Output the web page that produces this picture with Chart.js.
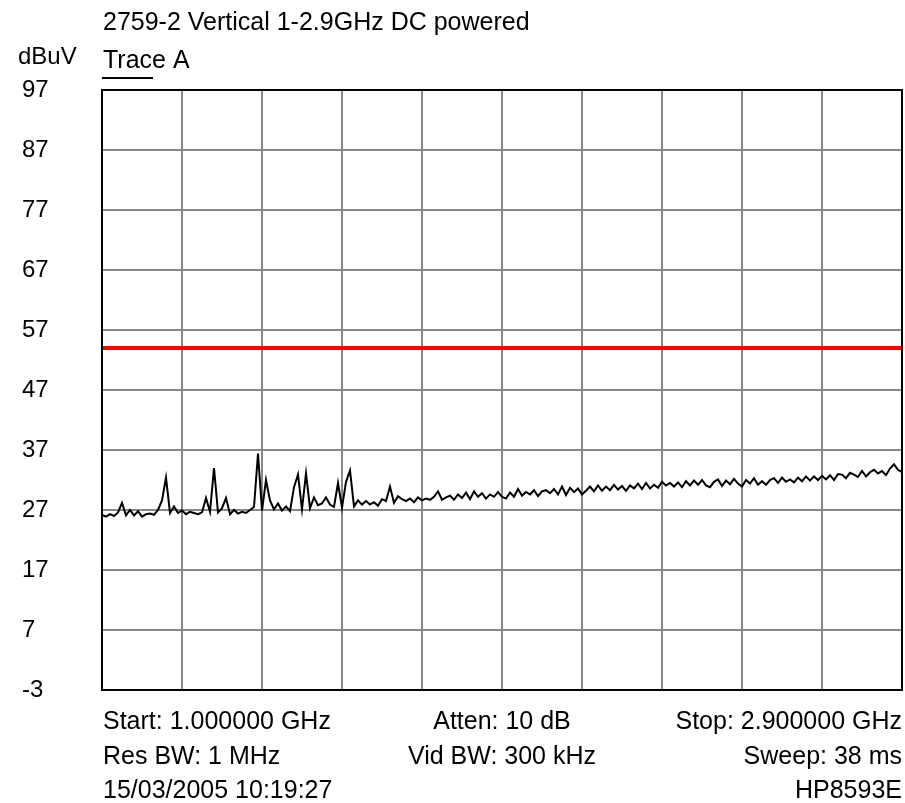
<!DOCTYPE html>
<html>
<head>
<meta charset="utf-8">
<script src="https://cdn.jsdelivr.net/npm/chart.js@4.4.0/dist/chart.umd.min.js"></script>
<style>
html,body{margin:0;padding:0;background:#fff;}
#wrap{width:905px;height:803px;}
</style>
</head>
<body>
<div id="wrap"><canvas id="c" width="905" height="803"></canvas></div>
<script>
const titleText = "2759-2 Vertical 1-2.9GHz DC powered";
const yUnit = "dBuV";
const traceName = "Trace A";
const startGHz = 1.0;
const stopGHz = 2.9;
const limitLevel = 54;
const yTickValues = [-3, 7, 17, 27, 37, 47, 57, 67, 77, 87, 97];
const xGridGHz = [1.0, 1.19, 1.38, 1.57, 1.76, 1.95, 2.14, 2.33, 2.52, 2.71, 2.9];
const infoLeft = ["Start: 1.000000 GHz", "Res BW: 1 MHz", "15/03/2005 10:19:27"];
const infoCenter = ["Atten: 10 dB", "Vid BW: 300 kHz", ""];
const infoRight = ["Stop: 2.900000 GHz", "Sweep: 38 ms", "HP8593E"];
const traceA = [
 26.2, 25.9, 26.3, 26.0, 26.6, 28.2, 26.1, 27.0, 26.1, 26.8, 25.9, 26.3, 26.4, 26.2, 27.0,
 28.6, 32.4, 26.5, 27.6, 26.5, 26.9, 26.3, 26.7, 26.5, 26.3, 26.6,
 29.0, 26.7, 34.0, 26.6, 27.3, 29.0, 26.3, 27.0, 26.4, 26.7, 26.5, 27.0, 27.5,
 36.4, 26.9, 32.0, 28.6, 27.1, 28.1, 26.9, 27.6, 26.8, 30.8, 32.9,
 27.1, 33.1, 27.3, 29.1, 27.8, 28.1, 29.1, 27.9, 27.5, 31.5, 27.4, 31.7, 33.6,
 27.6, 28.6, 27.9, 28.5, 27.9, 28.3, 27.7, 28.8, 28.5, 30.9, 28.2, 29.3, 28.8, 28.5, 28.9, 28.3, 29.1, 28.6, 28.9, 28.7, 29.2,
 30.1, 28.7, 29.1, 29.4, 28.7, 29.6, 29.0, 29.9, 28.8, 30.1,
 29.2, 29.8, 28.9, 29.6, 29.2, 30.0, 29.2, 28.9, 29.9, 29.2,
 30.5, 29.4, 30.0, 29.6, 30.3, 29.3, 30.1, 30.3, 29.8, 30.5,
 29.6, 30.9, 29.5, 30.7, 30.0, 30.6, 29.6, 30.2, 30.9, 30.1,
 31.1, 30.2, 30.9, 30.3, 31.2, 30.4, 31.0, 30.2, 31.1, 30.6,
 31.4, 30.5, 31.5, 30.6, 31.2, 30.7, 31.7, 31.1, 31.5, 30.9,
 31.6, 30.8, 31.8, 31.1, 31.9, 31.2, 32.0, 31.1, 30.8, 31.7,
 32.1, 31.0, 31.9, 31.3, 32.2, 31.4, 30.9, 32.0, 31.4, 32.3,
 31.2, 31.8, 31.2, 32.0, 32.3, 31.5, 32.4, 31.7, 32.1, 31.6,
 32.4, 31.8, 32.6, 31.9, 32.6, 32.0, 32.7, 32.1, 32.8, 32.0,
 33.0, 32.9, 32.3, 33.2, 32.9, 32.5, 33.5, 32.6, 33.3, 33.7,
 33.1, 33.5, 32.8, 33.9, 34.6, 33.7, 33.3
];

const FONT = "'Liberation Sans', Arial, sans-serif";
const tracePoints = traceA.map((v, i) => ({
  x: startGHz + i * (stopGHz - startGHz) / (traceA.length - 1),
  y: v
}));
const limitPoints = [{x: startGHz, y: limitLevel}, {x: stopGHz, y: limitLevel}];

const textPlugin = {
  id: 'texts',
  afterDraw(chart) {
    const ctx = chart.ctx;
    const a = chart.chartArea;
    ctx.save();
    ctx.strokeStyle = '#000';
    ctx.lineWidth = 2;
    ctx.strokeRect(a.left, a.top, a.right - a.left, a.bottom - a.top);
    ctx.fillStyle = '#000';
    ctx.textBaseline = 'middle';
    ctx.font = '25px ' + FONT;
    ctx.textAlign = 'left';
    ctx.fillText(titleText, a.left + 1, 23);
    ctx.fillText(traceName, a.left + 1, 61);
    ctx.font = '24px ' + FONT;
    ctx.fillText(yUnit, 18, 57);
    ctx.beginPath();
    ctx.moveTo(a.left, 78);
    ctx.lineTo(a.left + 51, 78);
    ctx.lineWidth = 2;
    ctx.stroke();
    ctx.font = '25px ' + FONT;
    const rowsY = [722, 757, 791];
    const cx = (a.left + a.right) / 2;
    for (let i = 0; i < rowsY.length; i++) {
      ctx.textAlign = 'left';
      ctx.fillText(infoLeft[i], a.left + 1, rowsY[i]);
      ctx.textAlign = 'center';
      ctx.fillText(infoCenter[i], cx, rowsY[i]);
      ctx.textAlign = 'right';
      ctx.fillText(infoRight[i], a.right, rowsY[i]);
    }
    ctx.restore();
  }
};

new Chart(document.getElementById('c'), {
  type: 'line',
  data: {
    datasets: [
      {
        label: 'Limit',
        data: limitPoints,
        borderColor: '#ff0000',
        borderWidth: 4,
        pointRadius: 0,
        tension: 0,
        fill: false
      },
      {
        label: traceName,
        data: tracePoints,
        borderColor: '#000000',
        borderWidth: 2,
        pointRadius: 0,
        tension: 0,
        fill: false
      }
    ]
  },
  options: {
    responsive: false,
    animation: false,
    layout: { padding: { top: 90, bottom: 113, left: 22, right: 3 } },
    plugins: { legend: { display: false }, tooltip: { enabled: false } },
    scales: {
      x: {
        type: 'linear',
        min: startGHz,
        max: stopGHz,
        afterBuildTicks: (s) => { s.ticks = xGridGHz.map(v => ({ value: v })); },
        ticks: { display: false },
        grid: { color: '#888888', lineWidth: 2, drawTicks: false },
        border: { display: true, color: '#000', width: 2 }
      },
      y: {
        type: 'linear',
        min: -3,
        max: 97,
        afterBuildTicks: (s) => { s.ticks = yTickValues.map(v => ({ value: v })); },
        afterFit: (s) => { s.width = 80; },
        ticks: {
          color: '#000',
          font: { family: FONT, size: 24 },
          crossAlign: 'far',
          padding: 0
        },
        grid: { color: '#888888', lineWidth: 2, drawTicks: false },
        border: { display: true, color: '#000', width: 2 }
      }
    }
  },
  plugins: [textPlugin]
});
</script>
</body>
</html>
